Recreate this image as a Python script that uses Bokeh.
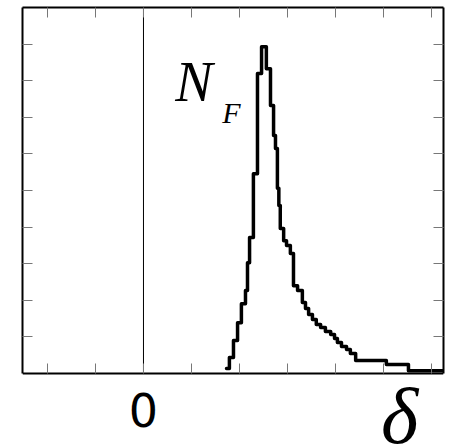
from bokeh.plotting import figure
from bokeh.models import LinearAxis, FixedTicker, Label, Range1d
from bokeh.embed import file_html
from bokeh.resources import INLINE

# histogram of delta: left bin edges and counts (arbitrary units)
bin_left = [1.73, 1.79, 1.875, 1.96, 2.04, 2.125, 2.167, 2.21, 2.29, 2.375,
            2.46, 2.56, 2.646, 2.71, 2.75, 2.79, 2.82, 2.85, 2.92, 2.98,
            3.06, 3.125, 3.21, 3.31, 3.375, 3.44, 3.52, 3.60, 3.69, 3.79,
            3.90, 3.98, 4.04, 4.125, 4.23, 4.31, 4.42, 5.06, 5.52]
counts = [0.14, 0.44, 0.90, 1.39, 1.91, 2.27, 3.03, 3.72, 5.46, 8.20,
          8.93, 8.33, 7.32, 6.50, 6.15, 5.06, 4.59, 3.96, 3.63, 3.50,
          3.28, 2.40, 2.27, 1.94, 1.78, 1.61, 1.48, 1.34, 1.26, 1.15,
          1.07, 0.96, 0.85, 0.74, 0.66, 0.55, 0.36, 0.25, 0.08]
last_edge = 6.3

x_min, x_max = -2.52, 6.25
y_min, y_max = 0, 10
x_ticks = [-2, -1, 0, 1, 2, 3, 4, 5, 6]
y_ticks = [1, 2, 3, 4, 5, 6, 7, 8, 9]
x_labels = {0: "0"}

# the frame reaches the canvas bottom so that the "δ" label below the
# box can be drawn inside it; the box itself is drawn by the axes
p = figure(width=455, height=447, output_backend="svg", toolbar_location=None,
           x_range=Range1d(x_min, x_max), y_range=Range1d(-2.02, y_max),
           x_axis_location="below", y_axis_location="left",
           min_border_left=22, min_border_right=12, min_border_top=7,
           min_border_bottom=0)
p.background_fill_color = "white"
p.border_fill_color = "white"
p.grid.visible = False
p.outline_line_color = None

tick_color = "#777777"

def style_axis(ax, ticks, show=None):
    ax.ticker = FixedTicker(ticks=ticks)
    ax.axis_line_color = "black"
    ax.axis_line_width = 2
    ax.major_tick_in = 10
    ax.major_tick_out = 0
    ax.minor_tick_line_color = None
    ax.major_tick_line_color = tick_color
    ax.major_tick_line_width = 1
    ov = {t: "" for t in ticks}
    if show:
        ov.update(show)
    ax.major_label_overrides = ov
    if not show:
        ax.major_label_text_font_size = "1px"
        ax.major_label_standoff = 0

# bottom axis at y = 0, with only the "0" label
bx = p.xaxis[0]
style_axis(bx, x_ticks, x_labels)
bx.fixed_location = y_min
bx.major_label_text_font = "DejaVu Sans"
bx.major_label_text_font_size = "46px"
bx.major_label_text_color = "black"
bx.major_label_standoff = 19

ly = p.yaxis[0]
style_axis(ly, y_ticks)
ly.bounds = (y_min, y_max)

top = LinearAxis()
style_axis(top, x_ticks)
p.add_layout(top, "above")

right = LinearAxis()
style_axis(right, y_ticks)
right.bounds = (y_min, y_max)
p.add_layout(right, "right")

# zero line
p.segment(x0=[0], y0=[y_min], x1=[0], y1=[y_max], line_color="black", line_width=1)

# step histogram
xs = bin_left + [last_edge]
ys = counts + [counts[-1]]
p.step(xs, ys, mode="after", line_color="black", line_width=3.5,
       line_join="round", line_cap="round")

# labels
p.add_layout(Label(x=0.66, y=7.97, text="N", text_font="Liberation Serif",
                   text_font_style="italic", text_font_size="56px",
                   text_color="black", text_baseline="alphabetic"))
p.add_layout(Label(x=1.64, y=7.12, text="F", text_font="Liberation Serif",
                   text_font_style="italic", text_font_size="30px",
                   text_color="black", text_baseline="alphabetic"))
p.add_layout(Label(x=4.95, y=-1.16, text="δ", text_font="Liberation Serif",
                   text_font_style="italic", text_font_size="80px",
                   text_color="black", text_baseline="alphabetic"))

open("out.html", "w").write(file_html(p, INLINE))
